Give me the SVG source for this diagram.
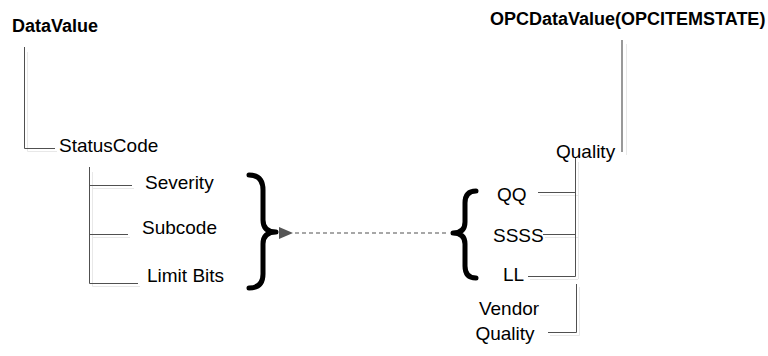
<svg xmlns="http://www.w3.org/2000/svg" width="768" height="356" viewBox="0 0 768 356">
<defs>
<style>
.t{font-family:"Liberation Sans",Arial,sans-serif;font-size:19px;fill:#000}
.b{font-family:"Liberation Sans",Arial,sans-serif;font-size:18px;font-weight:bold;fill:#000}
.ln{fill:none;stroke:#505050;stroke-width:1}
.sh{fill:none;stroke:#e8e8e8;stroke-width:1}
.br{fill:none;stroke:#000;stroke-width:5;stroke-linecap:round;stroke-linejoin:round}
.dash{fill:none;stroke:#8a8a8a;stroke-width:1.5;stroke-dasharray:4 3}
</style>
<marker id="ah" viewBox="0 0 14 12" refX="1" refY="6" markerWidth="14" markerHeight="12" markerUnits="userSpaceOnUse" orient="auto">
<path d="M14,0 L0,6 L14,12 Z" fill="#555"/>
</marker>
</defs>
<rect width="768" height="356" fill="#fff"/>
<g id="connectors">
<path class="sh" d="M27.5,52 V151.5 H57"/>
<path class="ln" d="M24.5,47 V148.5 H55"/>
<path class="sh" d="M92.5,172 V286.5 H140 M92,188.5 H134 M92,237.5 H130"/>
<path class="ln" d="M89.5,167 V283.5 H138 M89,185.5 H132 M89,234.5 H128"/>
<path class="sh" d="M626.5,44 V155"/>
<path style="fill:none;stroke:#999;stroke-width:2" d="M622,40 V152"/>
<path class="sh" d="M578.5,162 V279 M540,195.5 H578 M545,237.5 H578 M530,279.5 H578"/>
<path class="ln" d="M575.5,158 V276.5 H528 M538,192.5 H575 M543,234.5 H575"/>
<path class="sh" d="M579.5,287 V335.5 H550"/>
<path class="ln" d="M576.5,284 V332.5 H548"/>
<path class="dash" d="M446,233 H292" marker-end="url(#ah)"/>
</g>
<g id="datavalue"><text class="b" x="12" y="32">DataValue</text></g>
<g id="statuscode"><text class="t" x="59" y="152">StatusCode</text></g>
<g id="severity"><text class="t" x="145" y="189">Severity</text></g>
<g id="subcode"><text class="t" x="142" y="234">Subcode</text></g>
<g id="limitbits"><text class="t" x="147" y="282">Limit Bits</text></g>
<g id="brace-right"><path class="br" d="M249,175 Q263,175 263,190 L263,220 Q263,232 276,232 Q263,232 263,244 L263,274 Q263,288 249,288"/></g>
<g id="opcdatavalue"><text class="b" x="490" y="25">OPCDataValue(OPCITEMSTATE)</text></g>
<g id="quality"><text class="t" x="556" y="158">Quality</text></g>
<g id="qq"><text class="t" x="497" y="201">QQ</text></g>
<g id="ssss"><text class="t" x="493" y="242">SSSS</text></g>
<g id="ll"><text class="t" x="503" y="281">LL</text></g>
<g id="brace-left"><path class="br" d="M476,191 Q465,191 465,203 L465,222 Q465,233 453,233 Q465,233 465,244 L465,266 Q465,278 476,278"/></g>
<g id="vendorquality"><text class="t" x="509" y="315" text-anchor="middle">Vendor</text><text class="t" x="505" y="340" text-anchor="middle">Quality</text></g>
</svg>
